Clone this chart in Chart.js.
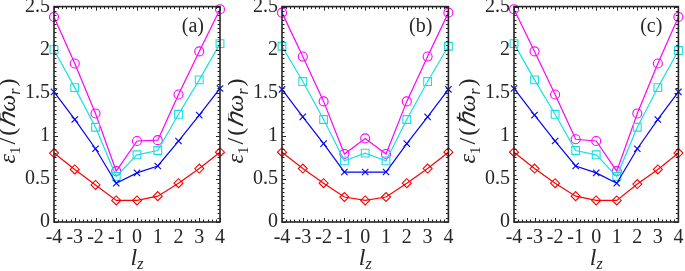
<!DOCTYPE html>
<html>
<head>
<meta charset="utf-8">
<script src="https://cdn.jsdelivr.net/npm/chart.js@4"></script>
<style>
html,body{margin:0;padding:0;background:#fff;width:685px;height:271px;overflow:hidden;}
canvas{position:absolute;top:0;}
#fp{position:absolute;left:-999px;top:0;font-family:"Liberation Serif";font-size:19px;}
#fp i{font-style:italic;}
</style>
</head>
<body>
<div id="fp">2.5 <i>εℏωlz</i></div>
<canvas id="ca" width="228" height="271" style="left:0px"></canvas>
<canvas id="cb" width="227" height="271" style="left:228px"></canvas>
<canvas id="cc" width="230" height="271" style="left:455px"></canvas>
<script>
// ---- data ----
const lz = [-4, -3, -2, -1, 0, 1, 2, 3, 4];
const yTicks = [0, 0.5, 1, 1.5, 2, 2.5];
const panelLabels = ['(a)', '(b)', '(c)'];

const aRed  = [0.80, 0.61, 0.43, 0.25, 0.25, 0.30, 0.45, 0.62, 0.81];
const aBlue = [1.51, 1.19, 0.85, 0.45, 0.57, 0.65, 0.94, 1.24, 1.55];
const aCyan = [2.00, 1.56, 1.10, 0.53, 0.78, 0.83, 1.25, 1.65, 2.07];
const aMag  = [2.38, 1.84, 1.26, 0.59, 0.94, 0.95, 1.48, 1.98, 2.47];

const bRed  = [0.81, 0.62, 0.45, 0.29, 0.25, 0.29, 0.45, 0.62, 0.81];
const bBlue = [1.54, 1.22, 0.91, 0.58, 0.58, 0.58, 0.91, 1.22, 1.54];
const bCyan = [2.04, 1.63, 1.19, 0.71, 0.80, 0.71, 1.19, 1.63, 2.04];
const bMag  = [2.43, 1.92, 1.40, 0.79, 0.97, 0.79, 1.40, 1.92, 2.43];

const cRed  = [0.81, 0.62, 0.45, 0.30, 0.25, 0.25, 0.44, 0.61, 0.80];
const cBlue = [1.55, 1.24, 0.94, 0.65, 0.57, 0.45, 0.85, 1.19, 1.51];
const cCyan = [2.07, 1.65, 1.25, 0.83, 0.78, 0.53, 1.10, 1.56, 1.99];
const cMag  = [2.47, 1.98, 1.48, 0.96, 0.94, 0.59, 1.26, 1.84, 2.38];

// ---- styles ----
const AX = '#262626';
const SERIF = '"Liberation Serif", "Times New Roman", serif';
const SERIES_STYLE = [
  {color: '#ff0000', pointStyle: 'rectRot', radius: 4.5},
  {color: '#0000ff', pointStyle: 'crossRot', radius: 4.5},
  {color: '#19e0e0', pointStyle: 'rect', radius: 5.5},
  {color: '#ff00ff', pointStyle: 'circle', radius: 4.5}
];

function drawRich(ctx, parts, cx, cy, rot) {
  ctx.save();
  ctx.translate(cx, cy);
  if (rot) ctx.rotate(rot);
  let total = 0;
  const widths = parts.map(p => {
    ctx.font = (p.it ? 'italic ' : '') + p.size + 'px ' + SERIF;
    const w = ctx.measureText(p.t).width + (p.gap || 0);
    total += w;
    return w;
  });
  let x = -total / 2;
  ctx.fillStyle = AX;
  ctx.textBaseline = 'alphabetic';
  ctx.textAlign = 'left';
  parts.forEach((p, i) => {
    ctx.font = (p.it ? 'italic ' : '') + p.size + 'px ' + SERIF;
    ctx.fillText(p.t, x, p.dy || 0);
    x += widths[i];
  });
  ctx.restore();
}

const framePlugin = {
  id: 'frame',
  afterDatasetsDraw(chart, args, opts) {
    const ctx = chart.ctx;
    const a = chart.chartArea;
    const xs = chart.scales.x, ys = chart.scales.y;
    ctx.save();
    ctx.strokeStyle = AX;
    ctx.lineWidth = 1;
    ctx.beginPath();
    for (let i = 0; i <= 40; i++) {
      const v = xs.min + i * 0.2;
      const px = Math.round(xs.getPixelForValue(v)) + 0.5;
      const L = (i % 5 === 0) ? 4 : 2.5;
      ctx.moveTo(px, a.bottom); ctx.lineTo(px, a.bottom - L);
      ctx.moveTo(px, a.top); ctx.lineTo(px, a.top + L);
    }
    for (let i = 0; i <= 50; i++) {
      const v = ys.min + i * 0.05;
      const py = Math.round(ys.getPixelForValue(v)) + 0.5;
      const L = (i % 10 === 0) ? 4 : 2.5;
      ctx.moveTo(a.left, py); ctx.lineTo(a.left + L, py);
      ctx.moveTo(a.right, py); ctx.lineTo(a.right - L, py);
    }
    ctx.stroke();
    ctx.lineWidth = 1.6;
    ctx.strokeRect(a.left, a.top, a.right - a.left, a.bottom - a.top);
    ctx.fillStyle = AX;
    ctx.font = '20px ' + SERIF;
    ctx.textAlign = 'right';
    ctx.textBaseline = 'alphabetic';
    ctx.fillText(opts.label, a.right - 16, 32);
    ctx.restore();
    drawRich(ctx, [
      {t: 'ε', it: true, size: 24},
      {t: '1', size: 15, dy: 5, gap: 2},
      {t: '/', size: 24, gap: 2},
      {t: '(', size: 24, gap: 1},
      {t: 'ℏ', it: true, size: 24},
      {t: 'ω', it: true, size: 24},
      {t: 'r', it: true, size: 16, dy: 5, gap: 2},
      {t: ')', size: 24}
    ], a.left - 39, 121, -Math.PI / 2);
    drawRich(ctx, [
      {t: 'l', it: true, size: 24},
      {t: 'z', it: true, size: 16, dy: 4}
    ], (a.left + a.right) / 2, 265, 0);
  }
};

function makePanel(id, label, red, blue, cyan, mag, plotLeft, rightPad) {
  const series = [red, blue, cyan, mag];
  const datasets = series.map((vals, k) => {
    const s = SERIES_STYLE[k];
    return {
      data: lz.map((x, i) => ({x: x, y: vals[i]})),
      borderColor: s.color,
      backgroundColor: 'rgba(0,0,0,0)',
      pointBackgroundColor: 'rgba(255,255,255,0)',
      pointBorderColor: s.color,
      pointStyle: s.pointStyle,
      pointRadius: s.radius,
      pointBorderWidth: 1.1,
      borderWidth: 1.2,
      tension: 0,
      clip: false
    };
  });
  new Chart(document.getElementById(id), {
    type: 'line',
    data: {datasets: datasets},
    plugins: [framePlugin],
    options: {
      responsive: false,
      animation: false,
      devicePixelRatio: 1,
      layout: {padding: {top: 6, right: rightPad, left: 0, bottom: 0}},
      plugins: {legend: {display: false}, tooltip: {enabled: false}, frame: {label: label}},
      scales: {
        x: {
          type: 'linear', min: lz[0], max: lz[lz.length - 1],
          grid: {display: false, drawTicks: false},
          border: {display: false},
          ticks: {stepSize: 1, padding: 4, color: AX, maxRotation: 0, autoSkip: false,
                  font: {family: SERIF, size: 20}},
          afterFit(s) { s.height = 49; s.paddingLeft = 0; s.paddingRight = 0; }
        },
        y: {
          min: yTicks[0], max: yTicks[yTicks.length - 1],
          grid: {display: false, drawTicks: false},
          border: {display: false},
          ticks: {stepSize: 0.5, padding: 4, color: AX, font: {family: SERIF, size: 20},
                  callback: v => String(Math.round(v * 10) / 10)},
          afterFit(s) { s.width = plotLeft; s.paddingTop = 0; s.paddingBottom = 0; }
        }
      }
    }
  });
}

function drawAll() {
  makePanel('ca', panelLabels[0], aRed, aBlue, aCyan, aMag, 54, 8);
  makePanel('cb', panelLabels[1], bRed, bBlue, bCyan, bMag, 54, 4);
  makePanel('cc', panelLabels[2], cRed, cBlue, cCyan, cMag, 59, 4);
}
Promise.all([
  document.fonts.load('20px "Liberation Serif"'),
  document.fonts.load('italic 24px "Liberation Serif"')
]).then(drawAll, drawAll);
</script>
</body>
</html>
